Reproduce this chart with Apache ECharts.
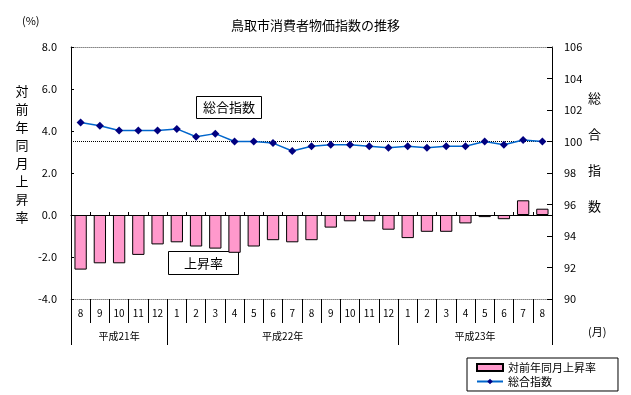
<!DOCTYPE html>
<html><head><meta charset="utf-8">
<script src="https://cdn.jsdelivr.net/npm/echarts@6/dist/echarts.min.js"></script>
<style>html,body{margin:0;padding:0;background:#fff}#c{width:631px;height:395px}</style>
</head><body><div id="c"></div>
<script>
const months = ['8','9','10','11','12','1','2','3','4','5','6','7','8','9','10','11','12','1','2','3','4','5','6','7','8'];
const yearNames = ['平成21年','平成22年','平成23年'];
const yearMonthCounts = [5,12,8];
const rateValues = [-2.6,-2.3,-2.3,-1.9,-1.4,-1.3,-1.5,-1.6,-1.8,-1.5,-1.2,-1.3,-1.2,-0.6,-0.3,-0.3,-0.7,-1.1,-0.8,-0.8,-0.4,-0.1,-0.2,0.7,0.3];
const indexValues = [101.2,101.0,100.7,100.7,100.7,100.8,100.3,100.5,100.0,100.0,99.9,99.4,99.7,99.8,99.8,99.7,99.6,99.7,99.6,99.7,99.7,100.0,99.8,100.1,100.0];
const leftTicks = [-4,8,2];
const rightTicks = [90,106,2];
const baseIndex = 100;

const bounds = [0]; yearMonthCounts.forEach(n => bounds.push(bounds[bounds.length-1]+n));
const yearCenters = yearMonthCounts.map((n,i)=> (bounds[i]+bounds[i+1])/2);

const FONT = '"Noto Sans CJK JP", sans-serif';
const chart = echarts.init(document.getElementById('c'), null, {renderer:'canvas'});
chart.setOption({
  animation:false,
  textStyle:{fontFamily:FONT},
  title:{text:'鳥取市消費者物価指数の推移', left:'center', top:14, textStyle:{fontSize:13, fontWeight:'normal', color:'#000', fontFamily:FONT}},
  grid:{left:71, right:79, top:47, bottom:96},
  legend:{left:467, top:358, orient:'vertical', itemWidth:26, itemHeight:7, itemGap:3,
    padding:[4,22,4,9], borderColor:'#000', borderWidth:1,
    textStyle:{fontSize:11, color:'#000', fontFamily:FONT},
    data:[{name:'対前年同月上昇率', icon:'rect'},{name:'総合指数'}]},
  xAxis:[
    {type:'category', data:months, boundaryGap:true, position:'bottom',
     axisLine:{show:true, onZero:true, onZeroAxisIndex:0, lineStyle:{color:'#000', width:1}},
     axisTick:{show:true, inside:true, length:3, interval:0, lineStyle:{color:'#000'}},
     axisLabel:{show:false}},
    {type:'category', data:months, boundaryGap:true, position:'bottom',
     axisLine:{show:true, onZero:false, lineStyle:{color:'#888', type:'dotted', width:1}},
     axisTick:{show:true, inside:false, length:24, interval:0, lineStyle:{color:'#000'}},
     axisLabel:{interval:0, margin:9, fontSize:10, color:'#000', fontFamily:FONT}},
    {type:'value', min:0, max:bounds[bounds.length-1], position:'bottom',
     axisLine:{show:false, onZero:false}, splitLine:{show:false},
     axisTick:{show:true, length:46, customValues:bounds, lineStyle:{color:'#000'}},
     axisLabel:{customValues:yearCenters, margin:32, fontSize:10, color:'#000', fontFamily:FONT,
       formatter:(v)=>{const i=yearCenters.indexOf(v); return i>=0?yearNames[i]:'';}}},
    {type:'category', data:months, position:'top',
     axisLine:{show:true, onZero:false, lineStyle:{color:'#888', type:'dotted', width:1}},
     axisTick:{show:false}, axisLabel:{show:false}}
  ],
  yAxis:[
    {type:'value', min:leftTicks[0], max:leftTicks[1], interval:leftTicks[2], position:'left',
     axisLine:{show:true, lineStyle:{color:'#000'}}, axisTick:{show:true, inside:true, length:3, lineStyle:{color:'#000'}},
     splitLine:{show:false}, axisLabel:{margin:14, fontSize:11, color:'#000', fontFamily:FONT, formatter:v=>v.toFixed(1)}},
    {type:'value', min:rightTicks[0], max:rightTicks[1], interval:rightTicks[2], position:'right',
     axisLine:{show:true, onZero:false, lineStyle:{color:'#000'}}, axisTick:{show:true, inside:true, length:5, lineStyle:{color:'#000'}},
     splitLine:{show:false}, axisLabel:{margin:12, fontSize:11, color:'#000', fontFamily:FONT}}
  ],
  series:[
    {name:'対前年同月上昇率', type:'bar', xAxisIndex:0, yAxisIndex:0, data:rateValues, barWidth:'64%',
     itemStyle:{color:'#FF99CC', borderColor:'#000', borderWidth:1}},
    {name:'総合指数', type:'line', xAxisIndex:0, yAxisIndex:1, data:indexValues, symbol:'diamond', symbolSize:8,
     lineStyle:{color:'#0066CC', width:1.5}, itemStyle:{color:'#000080'}, z:5,
     markLine:{silent:true, symbol:'none', label:{show:false},
       lineStyle:{color:'#000', type:'dotted', width:1}, data:[{yAxis:baseIndex}]}}
  ],
  graphic:[
    {type:'text', left:22, top:15, style:{text:'(%)', fontSize:11, fill:'#000', fontFamily:FONT}},
    {type:'text', left:588, top:326, style:{text:'(月)', fontSize:11, fill:'#000', fontFamily:FONT}},
    {type:'text', x:22, y:154, style:{text:'対\n前\n年\n同\n月\n上\n昇\n率', fontSize:13, lineHeight:18.1, fill:'#000', align:'center', verticalAlign:'middle', fontFamily:FONT}},
    {type:'group', left:588, top:92, children:[
      {type:'text', x:0, y:0, style:{text:'総', fontSize:13, fill:'#000', fontFamily:FONT}},
      {type:'text', x:0, y:36, style:{text:'合', fontSize:13, fill:'#000', fontFamily:FONT}},
      {type:'text', x:0, y:72, style:{text:'指', fontSize:13, fill:'#000', fontFamily:FONT}},
      {type:'text', x:0, y:108, style:{text:'数', fontSize:13, fill:'#000', fontFamily:FONT}}
    ]},
    {type:'group', left:196, top:96, z:100, children:[
      {type:'rect', shape:{x:0,y:0,width:65,height:22}, style:{fill:'#fff', stroke:'#000', lineWidth:1}},
      {type:'text', x:32.5, y:11, style:{text:'総合指数', fontSize:13, fill:'#000', align:'center', verticalAlign:'middle', fontFamily:FONT}}
    ]},
    {type:'group', left:168, top:251, z:100, children:[
      {type:'rect', shape:{x:0,y:0,width:70,height:23}, style:{fill:'#fff', stroke:'#000', lineWidth:1}},
      {type:'text', x:35, y:11.5, style:{text:'上昇率', fontSize:13, fill:'#000', align:'center', verticalAlign:'middle', fontFamily:FONT}}
    ]}
  ]
});
</script></body></html>
